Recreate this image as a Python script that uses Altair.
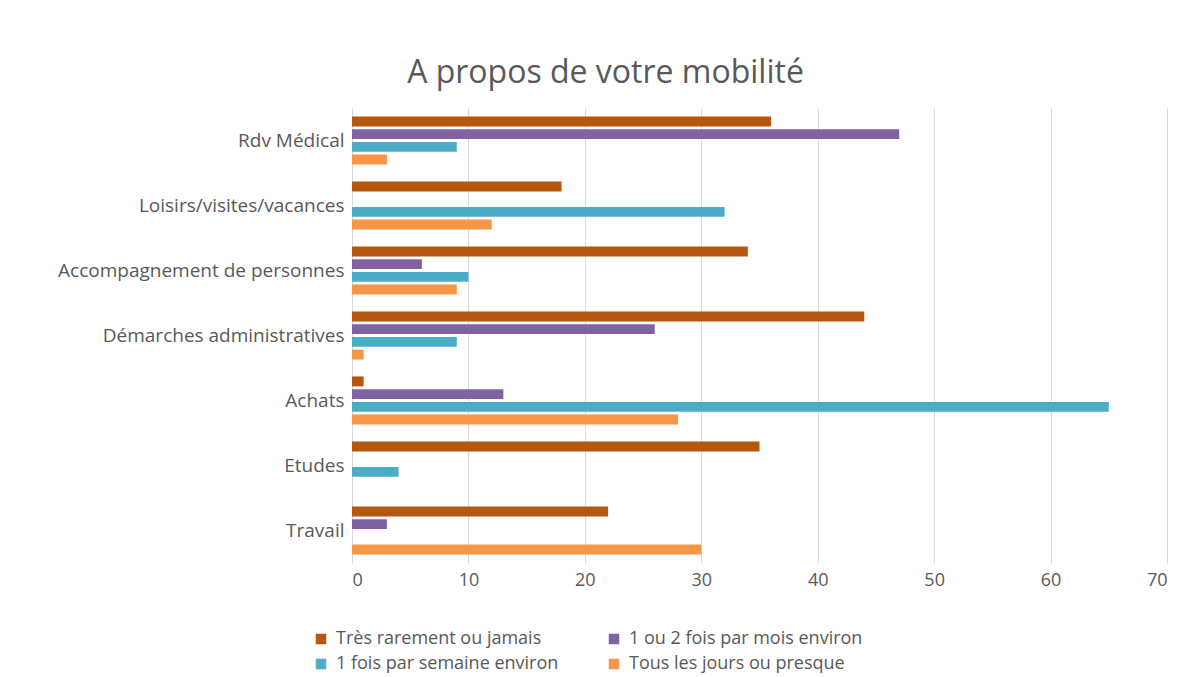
import altair as alt
import pandas as pd

categories = ["Rdv Médical", "Loisirs/visites/vacances", "Accompagnement de personnes",
              "Démarches administratives", "Achats", "Etudes", "Travail"]
series = ["Très rarement ou jamais", "1 ou 2 fois par mois environ",
          "1 fois par semaine environ", "Tous les jours ou presque"]
tres_rarement = [36, 18, 34, 44, 1, 35, 22]
une_deux_mois = [47, 0, 6, 26, 13, 0, 3]
une_semaine = [9, 32, 10, 9, 65, 4, 0]
tous_les_jours = [3, 12, 9, 1, 28, 0, 30]
colors = {"Très rarement ou jamais": "#B5570F",
          "1 ou 2 fois par mois environ": "#8064A2",
          "1 fois par semaine environ": "#4BACC6",
          "Tous les jours ou presque": "#F79646"}

values = [tres_rarement, une_deux_mois, une_semaine, tous_les_jours]
rows = []
for s, vals in zip(series, values):
    for c, v in zip(categories, vals):
        rows.append({"cat": c, "serie": s, "val": v})
df = pd.DataFrame(rows)

# legend is filled column by column: order so rows read as in the reference
legend_order = [series[0], series[2], series[1], series[3]]

font = "Open Sans"
text_color = "#595959"

chart = alt.Chart(df).mark_bar().encode(
    x=alt.X("val:Q", scale=alt.Scale(domain=[0, 70]),
            axis=alt.Axis(values=[0, 10, 20, 30, 40, 50, 60, 70], title=None,
                          grid=True, gridColor="#d9d9d9", domain=False, ticks=False,
                          labelFontSize=18, labelColor=text_color, labelFont=font,
                          labelPadding=8)),
    y=alt.Y("cat:N", sort=categories,
            scale=alt.Scale(paddingInner=0.26, paddingOuter=0.13),
            axis=alt.Axis(title=None, domain=False, ticks=False, labelFontSize=19,
                          labelColor=text_color, labelFont=font, labelPadding=8,
                          labelLimit=400)),
    yOffset=alt.YOffset("serie:N", sort=series,
                        scale=alt.Scale(paddingInner=0.22)),
    color=alt.Color("serie:N",
                    scale=alt.Scale(domain=legend_order,
                                    range=[colors[s] for s in legend_order]),
                    legend=alt.Legend(title=None, orient="none", legendX=-40, legendY=522,
                                      columns=2, columnPadding=46, rowPadding=7,
                                      symbolType="square", symbolSize=110,
                                      symbolStrokeWidth=0, labelOffset=6,
                                      labelFontSize=18, labelColor=text_color,
                                      labelFont=font, labelLimit=400)),
).properties(
    width=815,
    height=455,
    title=alt.Title("A propos de votre mobilité", fontSize=32, font=font,
                    color=text_color, fontWeight="normal", anchor="middle",
                    frame="group", dx=-154, offset=18),
    autosize=alt.AutoSizeParams(type="none"),
    padding={"left": 344, "top": 100, "right": 20, "bottom": 115},
).configure_view(stroke=None)

chart.save("out.html", embed_options={"renderer": "svg", "actions": False})
